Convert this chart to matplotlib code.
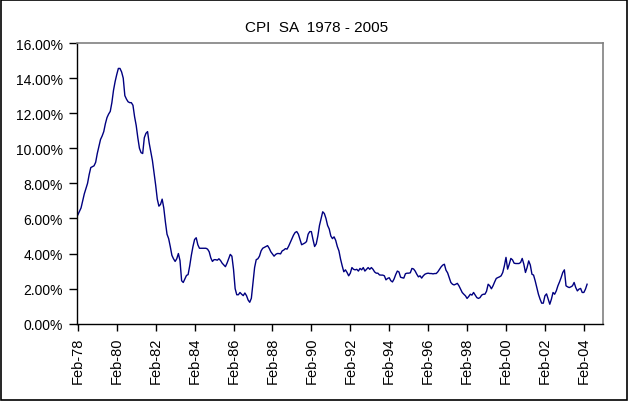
#!/usr/bin/env python3

import numpy as np
import matplotlib
matplotlib.use('Agg')
import matplotlib.pyplot as plt
from matplotlib.patches import Rectangle

# year-on-year CPI (SA), %, monthly from Feb-78 to Apr-04
y1978 = [6.2, 6.4, 6.6, 7.0, 7.4, 7.7, 8.0, 8.5, 8.9, 8.95, 9.0]
y1979 = [9.2, 9.7, 10.1, 10.5, 10.7, 10.95, 11.4, 11.75, 11.95, 12.1, 12.6, 13.3]
y1980 = [13.8, 14.2, 14.55, 14.55, 14.35, 14.0, 13.0, 12.8, 12.65, 12.6, 12.6, 12.45]
y1981 = [11.8, 11.3, 10.6, 10.0, 9.75, 9.7, 10.6, 10.85, 10.95, 10.3, 9.8, 9.3]
y1982 = [8.6, 7.9, 7.1, 6.7, 6.8, 7.1, 6.6, 5.8, 5.1, 4.85, 4.4, 3.9]
y1983 = [3.7, 3.55, 3.7, 4.0, 3.6, 2.45, 2.35, 2.55, 2.75, 2.8, 3.3, 3.9]
y1984 = [4.4, 4.8, 4.9, 4.5, 4.3, 4.3, 4.3, 4.3, 4.3, 4.25, 4.1, 3.75]
y1985 = [3.55, 3.65, 3.65, 3.62, 3.7, 3.6, 3.45, 3.35, 3.25, 3.45, 3.7, 3.95]
y1986 = [3.85, 3.1, 2.0, 1.65, 1.65, 1.78, 1.68, 1.6, 1.75, 1.6, 1.35, 1.22]
y1987 = [1.45, 2.3, 3.2, 3.65, 3.7, 3.85, 4.15, 4.3, 4.35, 4.4, 4.45, 4.3]
y1988 = [4.1, 3.98, 3.85, 3.95, 4.0, 4.0, 3.98, 4.15, 4.2, 4.28, 4.25, 4.42]
y1989 = [4.63, 4.85, 5.05, 5.2, 5.25, 5.1, 4.8, 4.5, 4.55, 4.6, 4.68, 5.1]
y1990 = [5.25, 5.25, 4.8, 4.4, 4.55, 5.0, 5.6, 6.0, 6.38, 6.28, 6.0, 5.6]
y1991 = [5.4, 5.0, 4.85, 4.95, 4.75, 4.4, 4.15, 3.68, 3.3, 2.96, 3.07, 2.92]
y1992 = [2.73, 2.88, 3.2, 3.1, 3.07, 3.1, 3.0, 3.15, 3.07, 3.2, 3.0, 3.1]
y1993 = [3.2, 3.1, 3.2, 3.1, 2.95, 2.88, 2.88, 2.78, 2.77, 2.77, 2.73, 2.5]
y1994 = [2.58, 2.62, 2.45, 2.38, 2.55, 2.8, 3.0, 2.95, 2.65, 2.62, 2.6, 2.85]
y1995 = [2.88, 2.88, 2.9, 3.15, 3.12, 3.0, 2.82, 2.67, 2.73, 2.6, 2.73, 2.82]
y1996 = [2.86, 2.88, 2.86, 2.86, 2.84, 2.86, 2.86, 2.96, 3.1, 3.24, 3.34, 3.39]
y1997 = [3.05, 2.9, 2.63, 2.35, 2.25, 2.21, 2.25, 2.3, 2.16, 1.97, 1.78, 1.68]
y1998 = [1.59, 1.44, 1.55, 1.68, 1.63, 1.78, 1.63, 1.49, 1.44, 1.49, 1.63, 1.68]
y1999 = [1.68, 1.85, 2.25, 2.16, 1.99, 2.16, 2.38, 2.58, 2.63, 2.67, 2.73, 2.92]
y2000 = [3.3, 3.78, 3.11, 3.39, 3.72, 3.64, 3.45, 3.43, 3.43, 3.43, 3.49, 3.72]
y2001 = [3.39, 2.92, 3.2, 3.58, 3.34, 2.82, 2.77, 2.44, 2.06, 1.68, 1.4, 1.17]
y2002 = [1.17, 1.59, 1.7, 1.4, 1.11, 1.4, 1.78, 1.68, 1.87, 2.16, 2.38, 2.63]
y2003 = [2.92, 3.07, 2.16, 2.1, 2.06, 2.1, 2.16, 2.35, 2.06, 1.87, 1.97, 2.01]
y2004 = [1.78, 1.78, 1.97, 2.25]

# Excel category axis runs Feb-78 .. Jan-05, labelled every 24 months
n_months = 324
tick_labels = ['Feb-78', 'Feb-80', 'Feb-82', 'Feb-84', 'Feb-86', 'Feb-88', 'Feb-90',
               'Feb-92', 'Feb-94', 'Feb-96', 'Feb-98', 'Feb-00', 'Feb-02', 'Feb-04']

cpi = np.array(y1978 + y1979 + y1980 + y1981 + y1982 + y1983 + y1984 + y1985
               + y1986 + y1987 + y1988 + y1989 + y1990 + y1991 + y1992 + y1993
               + y1994 + y1995 + y1996 + y1997 + y1998 + y1999 + y2000 + y2001
               + y2002 + y2003 + y2004)

plt.rcParams['font.family'] = ['Liberation Sans', 'DejaVu Sans']

fig = plt.figure(figsize=(6.29, 4.02), dpi=100)
ax = fig.add_axes([77 / 629, 1 - 324.7 / 402, 525.5 / 629, 280.7 / 402])

ax.plot(np.arange(len(cpi)), cpi, color='#000080', lw=1.0)

ax.set_xlim(-0.5, n_months - 0.5)
ax.set_ylim(0, 16)
ax.set_yticks(np.arange(0, 17, 2))
ax.set_yticklabels(['%.2f%%' % v for v in np.arange(0, 17, 2)], fontsize=10)
ax.set_xticks(np.arange(0, n_months, 24))
ax.set_xticklabels(tick_labels, rotation=90, fontsize=10.5)

ax.tick_params(axis='y', direction='out', length=6, width=1, pad=4, colors='black')
ax.tick_params(axis='x', direction='out', length=5, width=1, pad=4, colors='black')

for side in ('left', 'bottom'):
	ax.spines[side].set_color('black')
	ax.spines[side].set_linewidth(1)
for side in ('top', 'right'):
	ax.spines[side].set_color('#808080')
	ax.spines[side].set_linewidth(1.2)

fig.text(0.503, 0.93, 'CPI  SA  1978 - 2005', ha='center', va='center', fontsize=11)

# black frame round the whole chart
fig.patches.append(Rectangle((0.002, 0.003), 0.995, 0.994, transform=fig.transFigure,
                             fill=False, ec='black', lw=1.2))

fig.savefig('out.png', dpi=100, facecolor='white')
